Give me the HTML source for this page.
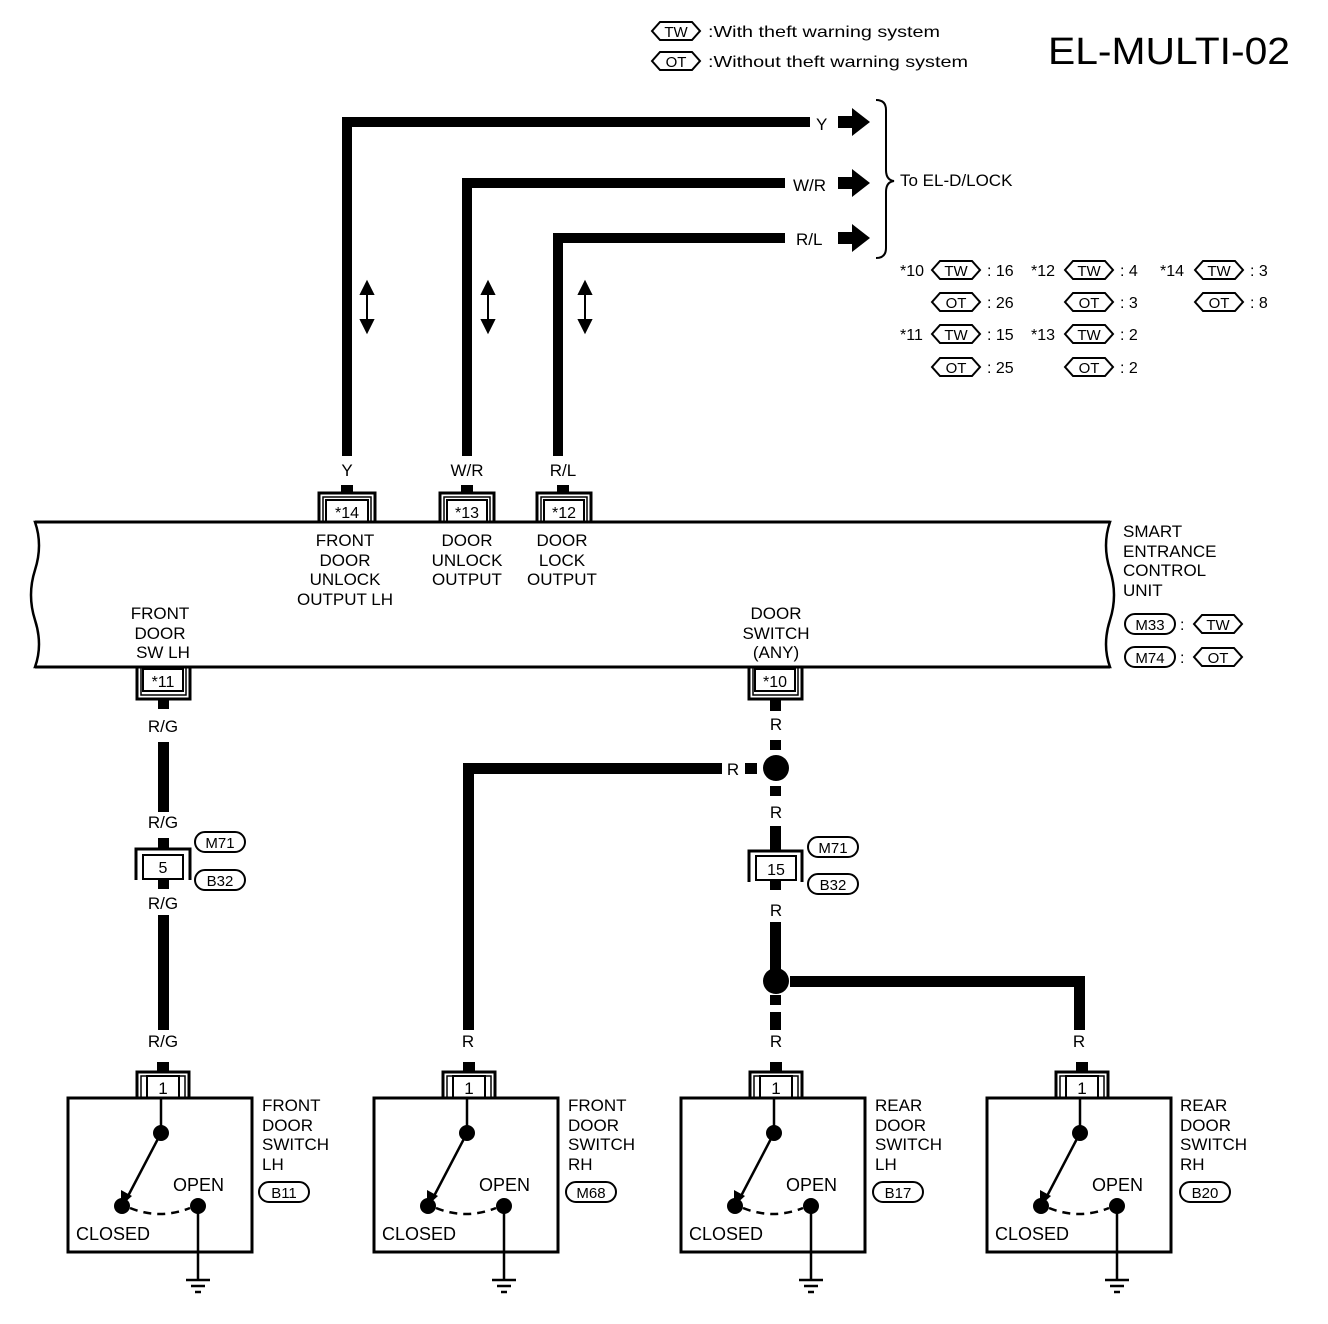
<!DOCTYPE html>
<html><head><meta charset="utf-8"><style>
html,body{margin:0;padding:0;background:#fff;}
svg{display:block;}
text{font-family:"Liberation Sans",sans-serif;fill:#000;}
</style></head><body>
<svg width="1328" height="1324" viewBox="0 0 1328 1324" xmlns="http://www.w3.org/2000/svg">
<defs>
<g id="sw">
  <path d="M -26 0 V -26 H 26 V 0" fill="none" stroke="#000" stroke-width="3"/>
  <path d="M -22 0 V -22 H 22 V 0" fill="none" stroke="#000" stroke-width="1.5"/>
  <rect x="-16" y="-22" width="32" height="22" fill="#fff" stroke="#000" stroke-width="2"/>
  <text x="0" y="-4" font-size="17" text-anchor="middle">1</text>
  <rect x="-6" y="-36" width="12" height="10" fill="#000"/>
  <rect x="-95" y="0" width="184" height="154" fill="none" stroke="#000" stroke-width="3"/>
  <line x1="-2" y1="0" x2="-2" y2="35" stroke="#000" stroke-width="2.5"/>
  <circle cx="-2" cy="35" r="8" fill="#000"/>
  <line x1="-2" y1="35" x2="-36" y2="100" stroke="#000" stroke-width="2.5"/>
  <path d="M -42 108 L -42 92 L -31 98 Z" fill="#000"/>
  <circle cx="-41" cy="108" r="8" fill="#000"/>
  <circle cx="35" cy="108" r="8" fill="#000"/>
  <path d="M -33 110 Q -3 122 27 110" fill="none" stroke="#000" stroke-width="2.5" stroke-dasharray="8,6"/>
  <line x1="35" y1="108" x2="35" y2="182" stroke="#000" stroke-width="2.5"/>
  <line x1="23" y1="182" x2="47" y2="182" stroke="#000" stroke-width="2.5"/>
  <line x1="28" y1="188" x2="42" y2="188" stroke="#000" stroke-width="2.5"/>
  <line x1="32" y1="194" x2="38" y2="194" stroke="#000" stroke-width="2.5"/>
  <text x="10" y="93" font-size="18">OPEN</text>
  <text x="-87" y="142" font-size="18">CLOSED</text>
</g>
</defs>

<!-- Legend -->
<path d="M652 31 L660 22 H692 L700 31 L692 40 H660 Z" fill="none" stroke="#000" stroke-width="2"/>
<text x="676" y="37" font-size="15" text-anchor="middle">TW</text>
<text x="708" y="37" font-size="16" textLength="232" lengthAdjust="spacingAndGlyphs">:With theft warning system</text>
<path d="M652 61 L660 52 H692 L700 61 L692 70 H660 Z" fill="none" stroke="#000" stroke-width="2"/>
<text x="676" y="67" font-size="15" text-anchor="middle">OT</text>
<text x="708" y="67" font-size="16" textLength="260" lengthAdjust="spacingAndGlyphs">:Without theft warning system</text>
<text x="1048" y="64" font-size="38" textLength="242" lengthAdjust="spacingAndGlyphs">EL-MULTI-02</text>

<!-- Top wires -->
<g fill="none" stroke="#000" stroke-width="10">
  <path d="M347 456 V122 H810"/>
  <path d="M467 456 V183 H785"/>
  <path d="M558 456 V238 H785"/>
</g>
<g fill="#000">
  <rect x="341" y="485" width="12" height="9"/>
  <rect x="461" y="485" width="12" height="9"/>
  <rect x="557" y="485" width="12" height="9"/>
</g>
<text x="816" y="130" font-size="17">Y</text>
<text x="793" y="191" font-size="17">W/R</text>
<text x="796" y="245" font-size="17">R/L</text>
<g fill="#000">
  <path d="M838 116 H852 V108 L870 122 L852 136 V128 H838 Z"/>
  <path d="M838 177 H852 V169 L870 183 L852 197 V189 H838 Z"/>
  <path d="M838 232 H852 V224 L870 238 L852 252 V244 H838 Z"/>
</g>
<path d="M876 100 Q886 100 886 110 V170 Q886 180 894 181 Q886 182 886 192 V248 Q886 258 876 258" fill="none" stroke="#000" stroke-width="2"/>
<text x="900" y="186" font-size="17">To EL-D/LOCK</text>

<!-- double arrows -->
<g stroke="#000" stroke-width="2" fill="#000">
  <line x1="367" y1="288" x2="367" y2="326"/><path d="M361 294 L367 282 L373 294 Z"/><path d="M361 320 L367 332 L373 320 Z"/>
  <line x1="488" y1="288" x2="488" y2="326"/><path d="M482 294 L488 282 L494 294 Z"/><path d="M482 320 L488 332 L494 320 Z"/>
  <line x1="585" y1="288" x2="585" y2="326"/><path d="M579 294 L585 282 L591 294 Z"/><path d="M579 320 L585 332 L591 320 Z"/>
</g>

<!-- Connector table -->
<g font-size="16">
  <text x="900" y="276">*10</text>
  <path d="M932 270 L940 261 H972 L980 270 L972 279 H940 Z" fill="none" stroke="#000" stroke-width="2"/><text x="956" y="276" text-anchor="middle" font-size="15">TW</text>
  <text x="987" y="276">: 16</text>
  <path d="M932 302 L940 293 H972 L980 302 L972 311 H940 Z" fill="none" stroke="#000" stroke-width="2"/><text x="956" y="308" text-anchor="middle" font-size="15">OT</text>
  <text x="987" y="308">: 26</text>
  <text x="900" y="340">*11</text>
  <path d="M932 334 L940 325 H972 L980 334 L972 343 H940 Z" fill="none" stroke="#000" stroke-width="2"/><text x="956" y="340" text-anchor="middle" font-size="15">TW</text>
  <text x="987" y="340">: 15</text>
  <path d="M932 367 L940 358 H972 L980 367 L972 376 H940 Z" fill="none" stroke="#000" stroke-width="2"/><text x="956" y="373" text-anchor="middle" font-size="15">OT</text>
  <text x="987" y="373">: 25</text>

  <text x="1031" y="276">*12</text>
  <path d="M1065 270 L1073 261 H1105 L1113 270 L1105 279 H1073 Z" fill="none" stroke="#000" stroke-width="2"/><text x="1089" y="276" text-anchor="middle" font-size="15">TW</text>
  <text x="1120" y="276">:  4</text>
  <path d="M1065 302 L1073 293 H1105 L1113 302 L1105 311 H1073 Z" fill="none" stroke="#000" stroke-width="2"/><text x="1089" y="308" text-anchor="middle" font-size="15">OT</text>
  <text x="1120" y="308">:  3</text>
  <text x="1031" y="340">*13</text>
  <path d="M1065 334 L1073 325 H1105 L1113 334 L1105 343 H1073 Z" fill="none" stroke="#000" stroke-width="2"/><text x="1089" y="340" text-anchor="middle" font-size="15">TW</text>
  <text x="1120" y="340">:  2</text>
  <path d="M1065 367 L1073 358 H1105 L1113 367 L1105 376 H1073 Z" fill="none" stroke="#000" stroke-width="2"/><text x="1089" y="373" text-anchor="middle" font-size="15">OT</text>
  <text x="1120" y="373">:  2</text>

  <text x="1160" y="276">*14</text>
  <path d="M1195 270 L1203 261 H1235 L1243 270 L1235 279 H1203 Z" fill="none" stroke="#000" stroke-width="2"/><text x="1219" y="276" text-anchor="middle" font-size="15">TW</text>
  <text x="1250" y="276">:  3</text>
  <path d="M1195 302 L1203 293 H1235 L1243 302 L1235 311 H1203 Z" fill="none" stroke="#000" stroke-width="2"/><text x="1219" y="308" text-anchor="middle" font-size="15">OT</text>
  <text x="1250" y="308">:  8</text>
</g>

<g font-size="17" text-anchor="middle">
  <text x="347" y="476">Y</text>
  <text x="467" y="476">W/R</text>
  <text x="563" y="476">R/L</text>
</g>

<!-- top connectors -->
<g fill="none" stroke="#000">
  <path d="M319 522 V493 H375 V522" stroke-width="3"/>
  <path d="M323 522 V497 H371 V522" stroke-width="1.5"/>
  <path d="M440 522 V493 H494 V522" stroke-width="3"/>
  <path d="M444 522 V497 H490 V522" stroke-width="1.5"/>
  <path d="M537 522 V493 H591 V522" stroke-width="3"/>
  <path d="M541 522 V497 H587 V522" stroke-width="1.5"/>
</g>
<g fill="#fff" stroke="#000" stroke-width="2">
  <rect x="326" y="500" width="42" height="22"/>
  <rect x="447" y="500" width="40" height="22"/>
  <rect x="544" y="500" width="40" height="22"/>
</g>
<g font-size="16" text-anchor="middle">
  <text x="347" y="518">*14</text>
  <text x="467" y="518">*13</text>
  <text x="564" y="518">*12</text>
</g>

<!-- control unit body -->
<path d="M35 522 H1110 Q1102 545 1110 570 Q1118 595 1110 620 Q1102 645 1110 667 H35 Q43 645 35 620 Q27 595 35 570 Q43 545 35 522 Z" fill="none" stroke="#000" stroke-width="2.5"/>
<line x1="35" y1="522" x2="1110" y2="522" stroke="#000" stroke-width="3"/>
<line x1="35" y1="667" x2="1110" y2="667" stroke="#000" stroke-width="3"/>

<g font-size="17" text-anchor="middle">
  <text x="345" y="546">FRONT</text><text x="345" y="566">DOOR</text><text x="345" y="585">UNLOCK</text><text x="345" y="605">OUTPUT LH</text>
  <text x="467" y="546">DOOR</text><text x="467" y="566">UNLOCK</text><text x="467" y="585">OUTPUT</text>
  <text x="562" y="546">DOOR</text><text x="562" y="566">LOCK</text><text x="562" y="585">OUTPUT</text>
  <text x="160" y="619">FRONT</text><text x="160" y="639">DOOR</text><text x="163" y="658">SW LH</text>
  <text x="776" y="619">DOOR</text><text x="776" y="639">SWITCH</text><text x="776" y="658">(ANY)</text>
</g>
<g font-size="17">
  <text x="1123" y="537">SMART</text><text x="1123" y="557">ENTRANCE</text><text x="1123" y="576">CONTROL</text><text x="1123" y="596">UNIT</text>
</g>
<rect x="1125" y="614" width="50" height="20" rx="10" fill="none" stroke="#000" stroke-width="2"/>
<text x="1150" y="630" font-size="15" text-anchor="middle">M33</text>
<text x="1180" y="630" font-size="16">:</text>
<path d="M1194 624 L1202 615 H1234 L1242 624 L1234 633 H1202 Z" fill="none" stroke="#000" stroke-width="2"/><text x="1218" y="630" text-anchor="middle" font-size="15">TW</text>
<rect x="1125" y="647" width="50" height="20" rx="10" fill="none" stroke="#000" stroke-width="2"/>
<text x="1150" y="663" font-size="15" text-anchor="middle">M74</text>
<text x="1180" y="663" font-size="16">:</text>
<path d="M1194 657 L1202 648 H1234 L1242 657 L1234 666 H1202 Z" fill="none" stroke="#000" stroke-width="2"/><text x="1218" y="663" text-anchor="middle" font-size="15">OT</text>

<!-- bottom connectors of unit -->
<g fill="none" stroke="#000">
  <path d="M137 667 V699 H190 V667" stroke-width="3"/>
  <path d="M141 667 V695 H186 V667" stroke-width="1.5"/>
  <path d="M749 667 V699 H802 V667" stroke-width="3"/>
  <path d="M753 667 V695 H798 V667" stroke-width="1.5"/>
</g>
<rect x="143" y="669" width="40" height="22" fill="#fff" stroke="#000" stroke-width="2"/>
<rect x="755" y="669" width="40" height="22" fill="#fff" stroke="#000" stroke-width="2"/>
<text x="163" y="687" font-size="16" text-anchor="middle">*11</text>
<text x="775" y="687" font-size="16" text-anchor="middle">*10</text>

<!-- left R/G wire -->
<g fill="#000">
  <rect x="158" y="699" width="11" height="10"/>
  <rect x="158" y="742" width="11" height="70"/>
  <rect x="158" y="915" width="11" height="115"/>
  <rect x="158" y="838" width="11" height="10"/>
  <rect x="158" y="880" width="11" height="9"/>
</g>
<g font-size="17" text-anchor="middle">
  <text x="163" y="732">R/G</text>
  <text x="163" y="828">R/G</text>
  <text x="163" y="909">R/G</text>
  <text x="163" y="1047">R/G</text>
</g>
<path d="M136 880 V849 H190 V880" fill="none" stroke="#000" stroke-width="3"/>
<rect x="143" y="855" width="40" height="24" fill="#fff" stroke="#000" stroke-width="2"/>
<text x="163" y="873" font-size="16" text-anchor="middle">5</text>
<rect x="195" y="832" width="50" height="20" rx="10" fill="none" stroke="#000" stroke-width="2"/>
<text x="220" y="848" font-size="15" text-anchor="middle">M71</text>
<rect x="195" y="870" width="50" height="20" rx="10" fill="none" stroke="#000" stroke-width="2"/>
<text x="220" y="886" font-size="15" text-anchor="middle">B32</text>

<!-- right R wire -->
<g fill="#000">
  <rect x="770" y="699" width="11" height="12"/>
  <rect x="770" y="740" width="11" height="10"/>
  <rect x="770" y="786" width="11" height="10"/>
  <rect x="770" y="826" width="11" height="25"/>
  <rect x="770" y="880" width="11" height="10"/>
  <rect x="770" y="922" width="11" height="48"/>
  <rect x="770" y="995" width="11" height="10"/>
  <rect x="770" y="1012" width="11" height="18"/>
  <circle cx="776" cy="768" r="13"/>
  <circle cx="776" cy="981" r="13"/>
  <rect x="745" y="763" width="12" height="11"/>
  <rect x="698" y="763" width="24" height="11"/>
  <path d="M463 1030 V763 H700 V774 H474 V1030 Z"/>
  <rect x="790" y="976" width="295" height="11"/>
  <rect x="1074" y="976" width="11" height="54"/>
</g>
<g font-size="17" text-anchor="middle">
  <text x="776" y="730">R</text>
  <text x="733" y="775">R</text>
  <text x="776" y="818">R</text>
  <text x="776" y="916">R</text>
  <text x="776" y="1047">R</text>
  <text x="468" y="1047">R</text>
  <text x="1079" y="1047">R</text>
</g>
<path d="M749 882 V851 H802 V882" fill="none" stroke="#000" stroke-width="3"/>
<rect x="756" y="856" width="40" height="24" fill="#fff" stroke="#000" stroke-width="2"/>
<text x="776" y="875" font-size="16" text-anchor="middle">15</text>
<rect x="808" y="837" width="50" height="20" rx="10" fill="none" stroke="#000" stroke-width="2"/>
<text x="833" y="853" font-size="15" text-anchor="middle">M71</text>
<rect x="808" y="874" width="50" height="20" rx="10" fill="none" stroke="#000" stroke-width="2"/>
<text x="833" y="890" font-size="15" text-anchor="middle">B32</text>

<!-- switches -->
<use href="#sw" transform="translate(163,1098)"/>
<use href="#sw" transform="translate(469,1098)"/>
<use href="#sw" transform="translate(776,1098)"/>
<use href="#sw" transform="translate(1082,1098)"/>

<g font-size="17">
  <text x="262" y="1111">FRONT</text><text x="262" y="1131">DOOR</text><text x="262" y="1150">SWITCH</text><text x="262" y="1170">LH</text>
  <text x="568" y="1111">FRONT</text><text x="568" y="1131">DOOR</text><text x="568" y="1150">SWITCH</text><text x="568" y="1170">RH</text>
  <text x="875" y="1111">REAR</text><text x="875" y="1131">DOOR</text><text x="875" y="1150">SWITCH</text><text x="875" y="1170">LH</text>
  <text x="1180" y="1111">REAR</text><text x="1180" y="1131">DOOR</text><text x="1180" y="1150">SWITCH</text><text x="1180" y="1170">RH</text>
</g>
<g fill="none" stroke="#000" stroke-width="2">
  <rect x="259" y="1182" width="50" height="20" rx="10"/>
  <rect x="566" y="1182" width="50" height="20" rx="10"/>
  <rect x="873" y="1182" width="50" height="20" rx="10"/>
  <rect x="1180" y="1182" width="50" height="20" rx="10"/>
</g>
<g font-size="15" text-anchor="middle">
  <text x="284" y="1198">B11</text>
  <text x="591" y="1198">M68</text>
  <text x="898" y="1198">B17</text>
  <text x="1205" y="1198">B20</text>
</g>
</svg>
</body></html>
